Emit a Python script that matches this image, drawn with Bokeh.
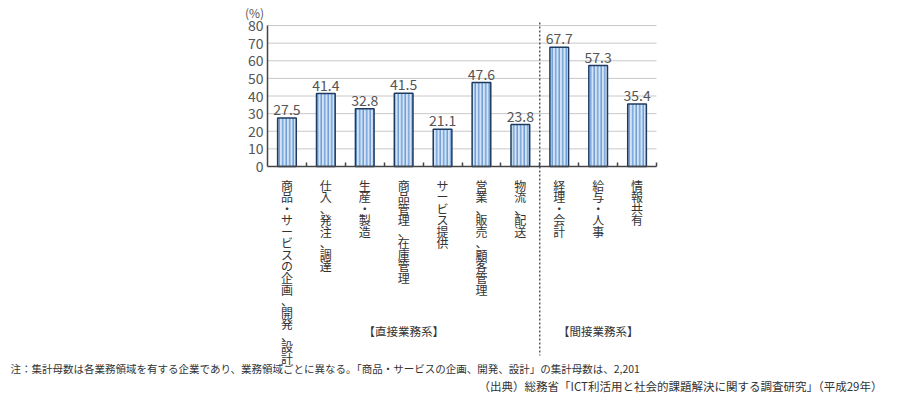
from bokeh.plotting import figure
from bokeh.models import Range1d, LinearAxis, FixedTicker, ColumnDataSource
from bokeh.core.properties import value
from bokeh.embed import file_html
from bokeh.resources import INLINE

categories = ["商品・サービスの企画、開発、設計", "仕入、発注、調達", "生産・製造",
              "商品管理、在庫管理", "サービス提供", "営業、販売、顧客管理", "物流、配送",
              "経理・会計", "給与・人事", "情報共有"]
values = [27.5, 41.4, 32.8, 41.5, 21.1, 47.6, 23.8, 67.7, 57.3, 35.4]
y_ticks = [0, 10, 20, 30, 40, 50, 60, 70, 80]
groups = ["【直接業務系】", "【間接業務系】"]
group_sizes = [7, 3]
unit_label = "(%)"
note = "注：集計母数は各業務領域を有する企業であり、業務領域ごとに異なる。「商品・サービスの企画、開発、設計」の集計母数は、2,201"
source_note = "（出典）総務省「ICT利活用と社会的課題解決に関する調査研究」（平成29年）"

FONT = "Noto Sans CJK JP"
W, H = 884, 394
# pixel geometry of plot area (canvas coords)
X0_PX, CAT_PX = 267.0, 38.9
Y0_PX, Y80_PX = 166.0, 25.0
PPU = (Y0_PX - Y80_PX) / 80.0

def dx(px):  # canvas x pixel -> data x
    return (px - X0_PX) / CAT_PX

def dy(py):  # canvas y pixel -> data y
    return (Y0_PX - py) / PPU

n = len(categories)
p = figure(width=W, height=H, x_range=Range1d(dx(0), dx(W)), y_range=Range1d(dy(H), dy(0)),
           min_border=0, x_axis_type=None, y_axis_type=None, outline_line_color=None,
           toolbar_location=None, output_backend="svg", background_fill_color="white",
           border_fill_color="white")
p.grid.visible = False

# grid lines
p.segment(x0=[0] * (len(y_ticks) - 1), x1=[n] * (len(y_ticks) - 1), y0=y_ticks[1:], y1=y_ticks[1:],
          line_color="#c8c8c8", line_width=1)

# bars
xs = [i + 0.5 for i in range(n)]
src = ColumnDataSource(dict(x=xs, top=values, lab=[f"{v:.1f}" for v in values],
                            cat=["\n".join(list(c)) for c in categories]))
p.vbar(x="x", top="top", width=0.48, source=src, fill_color="#d4e4f6", line_color="#1f3a60",
       line_width=1.5, hatch_pattern="|", hatch_color="#6f9fd8", hatch_scale=3.5, hatch_weight=1.5)

p.text(x="x", y="top", text="lab", source=src, text_align="center", text_baseline="bottom",
       y_offset=-3, text_font=value(FONT), text_font_size="14px", text_color="#555555")

# category labels (vertical)
p.text(x="x", y=dy(176), text="cat", source=src, text_align="center", text_baseline="top",
       text_font=value(FONT), text_font_size="12px", text_color="#333333", text_line_height=0.68)

# group labels
gx, start = [], 0
for s in group_sizes:
    gx.append(start + s / 2.0)
    start += s
p.text(x=gx, y=[dy(330)] * len(groups), text=groups, text_align="center", text_baseline="middle",
       text_font=value(FONT), text_font_size="11.5px", text_color="#333333")

# divider
p.segment(x0=[group_sizes[0]], x1=[group_sizes[0]], y0=[dy(22)], y1=[dy(355)],
          line_color="#333333", line_width=1.2, line_dash="2 2")

# axes
yax = LinearAxis(fixed_location=0, ticker=FixedTicker(ticks=y_ticks), bounds=(0, 80))
yax.major_tick_out = 0
yax.major_tick_in = 0
yax.minor_tick_out = 0
yax.minor_tick_in = 0
yax.major_label_standoff = 4
yax.axis_line_color = "#444444"
yax.axis_line_width = 1.5
yax.major_label_text_font = FONT
yax.major_label_text_font_size = "14px"
yax.major_label_text_color = "#555555"
p.add_layout(yax, "left")

xax = LinearAxis(fixed_location=0, ticker=FixedTicker(ticks=list(range(1, n + 1))), bounds=(0, n))
xax.major_tick_in = 4
xax.major_tick_out = 0
xax.minor_tick_in = 0
xax.minor_tick_out = 0
xax.axis_line_color = "#444444"
xax.axis_line_width = 1.5
xax.major_tick_line_color = "#444444"
xax.major_tick_line_width = 1.5
xax.major_label_text_font_size = "0px"
xax.major_label_text_color = None
p.add_layout(xax, "below")

# unit label
p.text(x=[dx(254)], y=[dy(12)], text=[unit_label], text_align="center", text_baseline="middle",
       text_font=value(FONT), text_font_size="12px", text_color="#555555")

# footnotes
p.text(x=[dx(10)], y=[dy(368)], text=[note], text_align="left", text_baseline="middle",
       text_font=value(FONT), text_font_size="10.5px", text_color="#333333")
p.text(x=[dx(882)], y=[dy(385)], text=[source_note], text_align="right", text_baseline="middle",
       text_font=value(FONT), text_font_size="11.5px", text_color="#333333")

open("out.html", "w").write(file_html(p, INLINE))
